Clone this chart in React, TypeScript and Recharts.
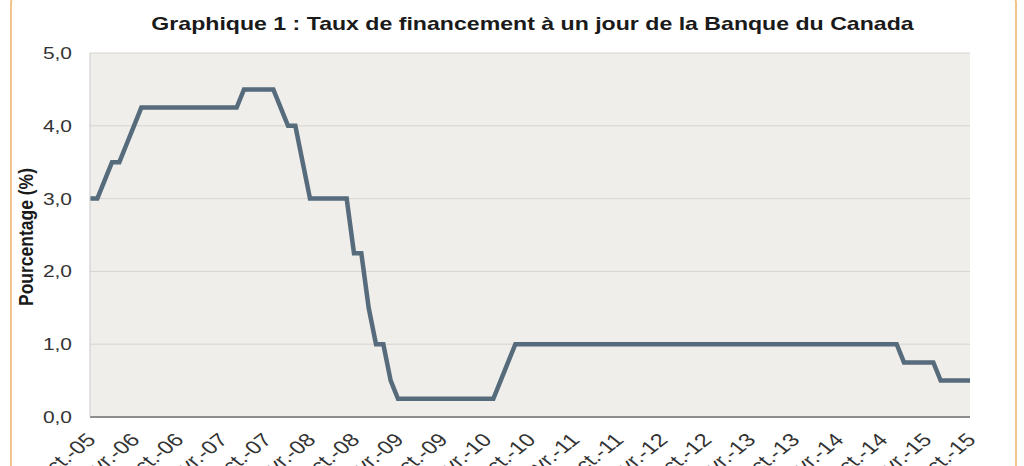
import React from 'react';
import { LineChart, Line, XAxis, YAxis, CartesianGrid } from 'recharts';

const monthLabels: string[] = [
  'oct.-05', 'nov.-05', 'déc.-05',
  'janv.-06', 'févr.-06', 'mars-06', 'avr.-06', 'mai-06', 'juin-06', 'juil.-06', 'août-06', 'sept.-06', 'oct.-06', 'nov.-06', 'déc.-06',
  'janv.-07', 'févr.-07', 'mars-07', 'avr.-07', 'mai-07', 'juin-07', 'juil.-07', 'août-07', 'sept.-07', 'oct.-07', 'nov.-07', 'déc.-07',
  'janv.-08', 'févr.-08', 'mars-08', 'avr.-08', 'mai-08', 'juin-08', 'juil.-08', 'août-08', 'sept.-08', 'oct.-08', 'nov.-08', 'déc.-08',
  'janv.-09', 'févr.-09', 'mars-09', 'avr.-09', 'mai-09', 'juin-09', 'juil.-09', 'août-09', 'sept.-09', 'oct.-09', 'nov.-09', 'déc.-09',
  'janv.-10', 'févr.-10', 'mars-10', 'avr.-10', 'mai-10', 'juin-10', 'juil.-10', 'août-10', 'sept.-10', 'oct.-10', 'nov.-10', 'déc.-10',
  'janv.-11', 'févr.-11', 'mars-11', 'avr.-11', 'mai-11', 'juin-11', 'juil.-11', 'août-11', 'sept.-11', 'oct.-11', 'nov.-11', 'déc.-11',
  'janv.-12', 'févr.-12', 'mars-12', 'avr.-12', 'mai-12', 'juin-12', 'juil.-12', 'août-12', 'sept.-12', 'oct.-12', 'nov.-12', 'déc.-12',
  'janv.-13', 'févr.-13', 'mars-13', 'avr.-13', 'mai-13', 'juin-13', 'juil.-13', 'août-13', 'sept.-13', 'oct.-13', 'nov.-13', 'déc.-13',
  'janv.-14', 'févr.-14', 'mars-14', 'avr.-14', 'mai-14', 'juin-14', 'juil.-14', 'août-14', 'sept.-14', 'oct.-14', 'nov.-14', 'déc.-14',
  'janv.-15', 'févr.-15', 'mars-15', 'avr.-15', 'mai-15', 'juin-15', 'juil.-15', 'août-15', 'sept.-15', 'oct.-15',
];

const overnightRate: number[] = [
  3.0, 3.0, 3.25,
  3.5, 3.5, 3.75, 4.0, 4.25, 4.25, 4.25, 4.25, 4.25, 4.25, 4.25, 4.25,
  4.25, 4.25, 4.25, 4.25, 4.25, 4.25, 4.5, 4.5, 4.5, 4.5, 4.5, 4.25,
  4.0, 4.0, 3.5, 3.0, 3.0, 3.0, 3.0, 3.0, 3.0, 2.25, 2.25, 1.5,
  1.0, 1.0, 0.5, 0.25, 0.25, 0.25, 0.25, 0.25, 0.25, 0.25, 0.25, 0.25,
  0.25, 0.25, 0.25, 0.25, 0.25, 0.5, 0.75, 1.0, 1.0, 1.0, 1.0, 1.0,
  1.0, 1.0, 1.0, 1.0, 1.0, 1.0, 1.0, 1.0, 1.0, 1.0, 1.0, 1.0,
  1.0, 1.0, 1.0, 1.0, 1.0, 1.0, 1.0, 1.0, 1.0, 1.0, 1.0, 1.0,
  1.0, 1.0, 1.0, 1.0, 1.0, 1.0, 1.0, 1.0, 1.0, 1.0, 1.0, 1.0,
  1.0, 1.0, 1.0, 1.0, 1.0, 1.0, 1.0, 1.0, 1.0, 1.0, 1.0, 1.0,
  0.75, 0.75, 0.75, 0.75, 0.75, 0.5, 0.5, 0.5, 0.5, 0.5,
];

const xTickLabels: string[] = [
  'oct.-05', 'avr.-06', 'oct.-06', 'avr.-07', 'oct.-07', 'avr.-08', 'oct.-08',
  'avr.-09', 'oct.-09', 'avr.-10', 'oct.-10', 'avr.-11', 'oct.-11', 'avr.-12',
  'oct.-12', 'avr.-13', 'oct.-13', 'avr.-14', 'oct.-14', 'avr.-15', 'oct.-15',
];

const yTicks: number[] = [0, 1, 2, 3, 4, 5];

const data = monthLabels.map((m, i) => ({ month: m, rate: overnightRate[i] }));

const FONT = '"Liberation Sans", Arial, sans-serif';
const SX = 1.27;

const XTick = (props: any) => {
  const { x, y, payload } = props;
  const ax = x + 7;
  const ay = y + 16;
  return (
    <text
      x={0}
      y={0}
      textAnchor="end"
      transform={`translate(${ax}, ${ay}) scale(${SX}, 1) rotate(-45)`}
      fontFamily={FONT}
      fontSize={18.5}
      fill="#333333"
    >
      {payload.value}
    </text>
  );
};

const YTick = (props: any) => {
  const { x, y, payload } = props;
  return (
    <text
      x={0}
      y={6}
      textAnchor="end"
      transform={`translate(${x}, ${y}) scale(${SX}, 1)`}
      fontFamily={FONT}
      fontSize={16.5}
      fill="#333333"
    >
      {payload.value.toFixed(1).replace('.', ',')}
    </text>
  );
};

export default function App() {
  return (
    <div
      style={{
        position: 'absolute',
        left: 0,
        top: 0,
        width: 1024,
        height: 466,
        overflow: 'hidden',
        background: '#ffffff',
      }}
    >
      <LineChart
        width={1024}
        height={466}
        data={data}
        margin={{ top: 53, right: 54, bottom: 0, left: 0 }}
      >
        <CartesianGrid vertical={false} stroke="#D6D4CF" fill="#EFEEEA" />
        <XAxis
          dataKey="month"
          ticks={xTickLabels}
          interval={0}
          height={49}
          tickLine={false}
          axisLine={{ stroke: '#8D8D8D', strokeWidth: 2 }}
          tick={<XTick />}
        />
        <YAxis
          domain={[0, 5]}
          ticks={yTicks}
          width={90}
          tickLine={false}
          tickSize={0}
          tickMargin={18}
          axisLine={{ stroke: '#C9C9C9' }}
          tick={<YTick />}
        />
        <Line
          type="linear"
          dataKey="rate"
          stroke="#566B7B"
          strokeWidth={4.5}
          dot={false}
          activeDot={false}
          isAnimationActive={false}
        />
      </LineChart>
      <svg
        width={1024}
        height={466}
        style={{ position: 'absolute', left: 0, top: 0, pointerEvents: 'none' }}
      >
        <rect x={11} y={-6} width={1005} height={600} rx={9} fill="none" stroke="#F0C48C" strokeWidth={2} />
        <text
          x={0}
          y={0}
          textAnchor="middle"
          transform={`translate(532.5, 29.5) scale(${SX}, 1)`}
          fontFamily={FONT}
          fontWeight="bold"
          fontSize={18.2}
          fill="#1a1a1a"
        >
          Graphique 1 : Taux de financement à un jour de la Banque du Canada
        </text>
        <text
          x={0}
          y={0}
          textAnchor="middle"
          transform="translate(33, 237) scale(1.15, 1) rotate(-90)"
          fontFamily={FONT}
          fontWeight="bold"
          fontSize={17.5}
          fill="#1a1a1a"
        >
          Pourcentage (%)
        </text>
      </svg>
    </div>
  );
}
